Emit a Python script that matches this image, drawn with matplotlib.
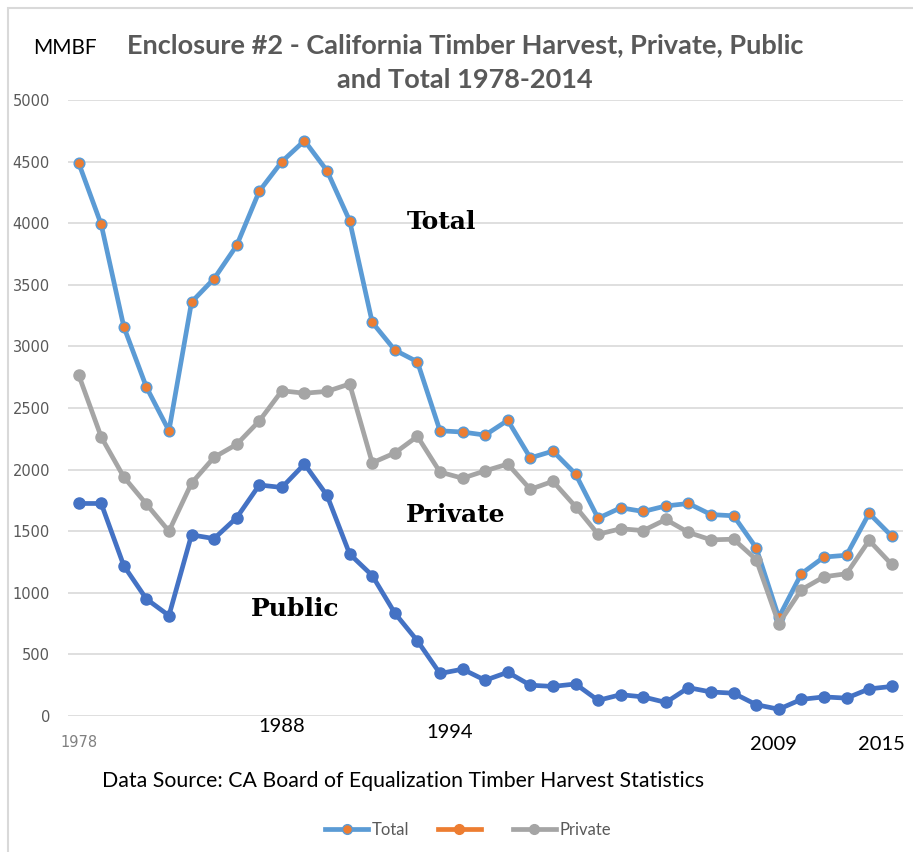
import matplotlib.pyplot as plt
from matplotlib.lines import Line2D
from matplotlib.patches import Rectangle

# Datos (MMBF)
anios = list(range(1978, 2015))
total = [4490, 3990, 3160, 2670, 2315, 3360, 3550, 3820, 4260, 4500,
         4670, 4425, 4020, 3195, 2970, 2875, 2315, 2305, 2280, 2400,
         2095, 2150, 1965, 1605, 1690, 1660, 1705, 1725, 1635, 1625,
         1365, 800, 1155, 1290, 1305, 1645, 1460]
privado = [2770, 2265, 1940, 1720, 1500, 1890, 2100, 2205, 2395, 2640,
           2620, 2635, 2695, 2055, 2135, 2270, 1980, 1930, 1990, 2045,
           1840, 1905, 1700, 1475, 1520, 1505, 1595, 1490, 1430, 1435,
           1270, 750, 1025, 1130, 1155, 1425, 1230]
publico = [1725, 1725, 1220, 950, 815, 1470, 1440, 1610, 1875, 1855,
           2045, 1790, 1315, 1140, 835, 610, 345, 380, 290, 355,
           250, 240, 260, 127, 173, 155, 110, 230, 195, 185,
           92, 55, 135, 155, 145, 220, 240]
yticks = [0, 500, 1000, 1500, 2000, 2500, 3000, 3500, 4000, 4500, 5000]
etiquetas_anio = ["1988", "1994", "2009", "2015"]

AZUL = "#5B9BD5"
NARANJA = "#ED7D31"
GRIS = "#A5A5A5"
AZUL_OSC = "#4472C4"
TEXTO = "#595959"

W, H = 913, 852
fig = plt.figure(figsize=(W / 100, H / 100), dpi=100)
fig.patches.append(Rectangle((8 / W, -0.1), 1.2, 1.1 - 8 / H, transform=fig.transFigure,
                             fill=False, edgecolor="#D9D9D9", linewidth=1.5))

ax = fig.add_axes([68 / W, (H - 716) / H, (903 - 68) / W, (716 - 100) / H])
ax.set_xlim(1977.53, 2014.5)
ax.set_ylim(0, 5000)
ax.set_yticks(yticks)
ax.set_yticklabels([str(v) for v in yticks], color=TEXTO, fontsize=10.5, family="DejaVu Sans")
ax.set_xticks([1978])
ax.set_xticklabels(["1978"], color="#808080", fontsize=10.5, family="DejaVu Sans")
ax.tick_params(axis="y", length=0, pad=13)
ax.tick_params(axis="x", length=0, pad=14)
ax.grid(axis="y", color="#D9D9D9", linewidth=1.2)
ax.set_axisbelow(True)
for s in ax.spines.values():
    s.set_visible(False)

ax.plot(anios, total, color=AZUL, linewidth=3.4, marker="o", markersize=7.5,
        markerfacecolor=NARANJA, markeredgecolor=AZUL, markeredgewidth=1.2, zorder=3)
ax.plot(anios, privado, color=GRIS, linewidth=3.4, marker="o", markersize=8,
        markerfacecolor=GRIS, markeredgecolor=GRIS, zorder=4)
ax.plot(anios, publico, color=AZUL_OSC, linewidth=3.4, marker="o", markersize=8,
        markerfacecolor=AZUL_OSC, markeredgecolor=AZUL_OSC, zorder=5)

# Etiquetas de serie
serif = dict(family="DejaVu Serif", fontweight="bold", fontsize=18, color="black",
             ha="center", va="center")
fig.text(441 / W, 1 - 222 / H, "Total", **serif)
fig.text(456 / W, 1 - 515 / H, "Private", **serif)
fig.text(295 / W, 1 - 609 / H, "Public", **serif)

# Titulo y textos
fig.text(465 / W, 1 - 45 / H, "Enclosure #2 - California Timber Harvest, Private, Public",
         family="Lato", fontweight="bold", fontsize=19.5, color=TEXTO, ha="center", va="center")
fig.text(465 / W, 1 - 80 / H, "and Total 1978-2014",
         family="Lato", fontweight="bold", fontsize=19.5, color=TEXTO, ha="center", va="center")
fig.text(65 / W, 1 - 48 / H, "MMBF", family="Lato", fontsize=15, color="black",
         ha="center", va="center")
fig.text(403 / W, 1 - 781 / H, "Data Source: CA Board of Equalization Timber Harvest Statistics",
         family="Lato", fontsize=15.3, color="black", ha="center", va="center")

pos_x = [281.5, 450, 773.5, 881.5]
pos_y = [726, 733, 745, 745]
for txt, px, py in zip(etiquetas_anio, pos_x, pos_y):
    fig.text(px / W, 1 - py / H, txt, family="Lato", fontsize=14.5, color="black",
             ha="center", va="center")

# Leyenda
handles = [
    Line2D([], [], color=AZUL, linewidth=3.4, marker="o", markersize=7,
           markerfacecolor=NARANJA, markeredgecolor=AZUL),
    Line2D([], [], color=NARANJA, linewidth=3.4, marker="o", markersize=7,
           markerfacecolor=NARANJA, markeredgecolor=NARANJA),
    Line2D([], [], color=GRIS, linewidth=3.4, marker="o", markersize=7,
           markerfacecolor=GRIS, markeredgecolor=GRIS),
]
leg = fig.legend(handles, ["Total", "", "Private"], loc="center", ncol=3,
                 bbox_to_anchor=(468 / W, 1 - 830 / H), frameon=False,
                 handlelength=2.6, handletextpad=0.2, columnspacing=1.7,
                 prop={"family": "Lato", "size": 12})
for t in leg.get_texts():
    t.set_color(TEXTO)

fig.savefig("out.png", dpi=100)
